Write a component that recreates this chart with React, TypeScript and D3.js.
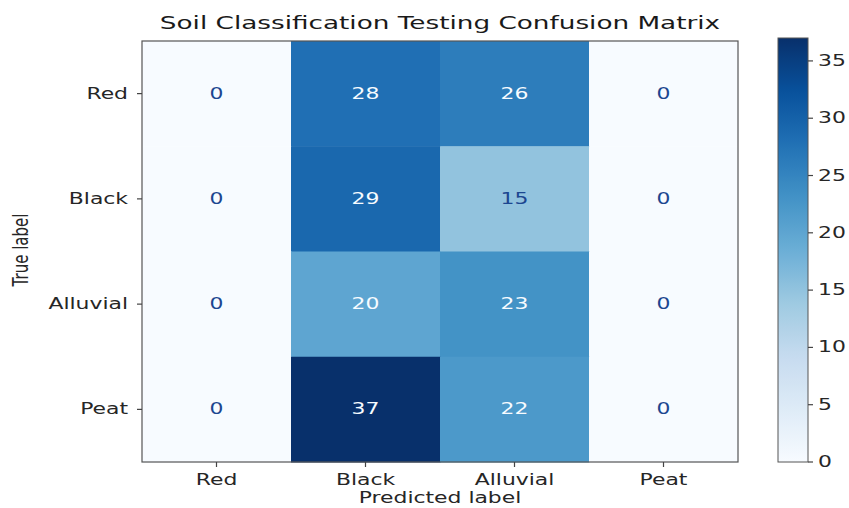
import React from "react";
import * as d3 from "d3";

const predictedLabels = ["Red", "Black", "Alluvial", "Peat"];
const trueLabels = ["Red", "Black", "Alluvial", "Peat"];
const rowRed = [0, 28, 26, 0];
const rowBlack = [0, 29, 15, 0];
const rowAlluvial = [0, 20, 23, 0];
const rowPeat = [0, 37, 22, 0];
const matrixRows = [rowRed, rowBlack, rowAlluvial, rowPeat];
const colorbarTicks = [0, 5, 10, 15, 20, 25, 30, 35];
const bluesStops = ["#f7fbff", "#deebf7", "#c6dbef", "#9ecae1", "#6baed6", "#4292c6", "#2171b5", "#08519c", "#08306b"];

const W = 849;
const H = 508;
const SX = 1.46;
const FONT = "DejaVu Sans, sans-serif";

const left = 142, right = 738, top = 41, bottom = 462;
const cbLeft = 778, cbRight = 808;

export default function App() {
  const all = matrixRows.flat();
  const vmin = d3.min(all) as number;
  const vmax = d3.max(all) as number;
  const norm = d3.scaleLinear().domain([vmin, vmax]).range([0, 1]);
  const blues = d3
    .scaleLinear<string>()
    .domain(bluesStops.map((_, i) => i / (bluesStops.length - 1)))
    .range(bluesStops)
    .interpolate(d3.interpolateRgb);
  const color = (v: number) => blues(norm(v));
  const thresh = (vmin + vmax) / 2;

  const x = d3.scaleBand<string>().domain(predictedLabels).range([left, right]);
  const y = d3.scaleBand<string>().domain(trueLabels).range([top, bottom]);
  const cy = d3.scaleLinear().domain([vmin, vmax]).range([bottom, 38]);

  const gradStops = d3.range(0, 1.0001, 0.02);

  const txt = (
    key: string,
    tx: number,
    ty: number,
    s: string,
    opts: { size?: number; anchor?: string; fill?: string; rotate?: number } = {}
  ) => (
    <text
      key={key}
      transform={`translate(${tx},${ty}) scale(${SX},1)${opts.rotate ? ` rotate(${opts.rotate})` : ""}`}
      fontFamily={FONT}
      fontSize={opts.size ?? 15}
      textAnchor={opts.anchor ?? "middle"}
      fill={opts.fill ?? "#262626"}
    >
      {s}
    </text>
  );

  return (
    <svg width={W} height={H} style={{ position: "absolute", left: 0, top: 0, background: "#fff" }}>
      <defs>
        <linearGradient id="cb" x1="0" y1="1" x2="0" y2="0">
          {gradStops.map((t) => (
            <stop key={t} offset={t} stopColor={blues(t)} />
          ))}
        </linearGradient>
      </defs>
      <rect width={W} height={H} fill="#fff" />
      {txt("title", (left + right) / 2, 29, "Soil Classification Testing Confusion Matrix", { size: 18, fill: "#1a1a1a" })}

      {matrixRows.map((row, ri) =>
        row.map((v, ci) => (
          <rect
            key={`c${ri}-${ci}`}
            x={x(predictedLabels[ci])}
            y={y(trueLabels[ri])}
            width={x.bandwidth() + 0.5}
            height={y.bandwidth() + 0.5}
            fill={color(v)}
          />
        ))
      )}
      {matrixRows.map((row, ri) =>
        row.map((v, ci) =>
          txt(
            `t${ri}-${ci}`,
            (x(predictedLabels[ci]) as number) + x.bandwidth() / 2,
            (y(trueLabels[ri]) as number) + y.bandwidth() / 2 + 5,
            String(v),
            { fill: v > thresh ? "#f7fbff" : "#1c4690" }
          )
        )
      )}
      <rect x={left} y={top} width={right - left} height={bottom - top} fill="none" stroke="#555" strokeWidth={1.2} />

      {predictedLabels.map((l) => {
        const cx = (x(l) as number) + x.bandwidth() / 2;
        return (
          <g key={`xt${l}`}>
            <line x1={cx} x2={cx} y1={bottom} y2={bottom + 5} stroke="#444" strokeWidth={1.2} />
            {txt(`xl${l}`, cx, bottom + 23, l)}
          </g>
        );
      })}
      {trueLabels.map((l) => {
        const yy = (y(l) as number) + y.bandwidth() / 2;
        return (
          <g key={`yt${l}`}>
            <line x1={left - 5} x2={left} y1={yy} y2={yy} stroke="#444" strokeWidth={1.2} />
            {txt(`yl${l}`, left - 14, yy + 5, l, { anchor: "end" })}
          </g>
        );
      })}
      {txt("xlab", (left + right) / 2, 503, "Predicted label")}
      {txt("ylab", 28, 250, "True label", { rotate: -90 })}

      <rect x={cbLeft} y={cy(vmax)} width={cbRight - cbLeft} height={bottom - cy(vmax)} fill="url(#cb)" stroke="#555" strokeWidth={1} />
      {colorbarTicks.map((t) => (
        <g key={`cb${t}`}>
          <line x1={cbRight} x2={cbRight + 5} y1={cy(t)} y2={cy(t)} stroke="#444" strokeWidth={1.2} />
          {txt(`cbl${t}`, cbRight + 10, cy(t) + 5, String(t), { anchor: "start" })}
        </g>
      ))}
    </svg>
  );
}
